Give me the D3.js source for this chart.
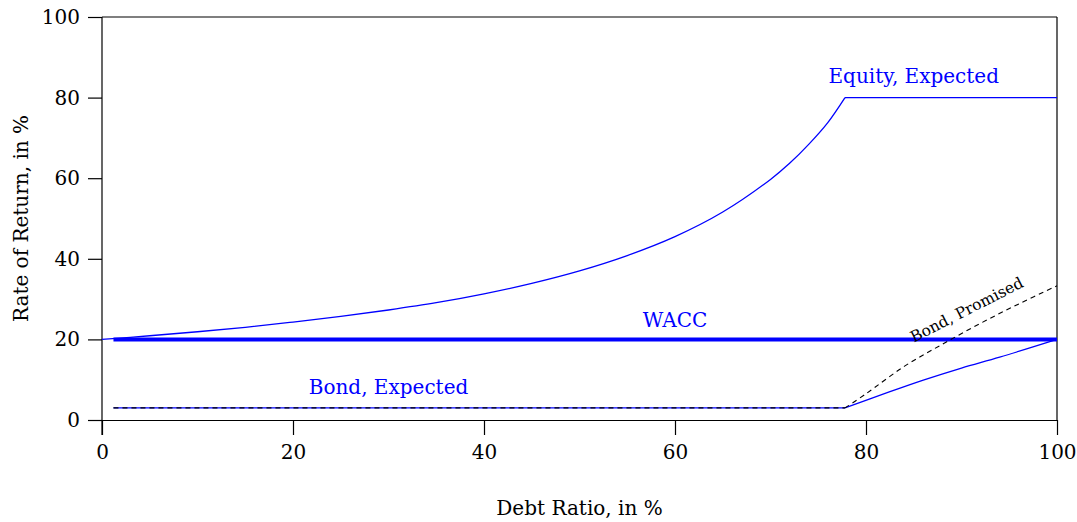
<!DOCTYPE html>
<html>
<head>
<meta charset="utf-8">
<script src="https://cdn.jsdelivr.net/npm/d3@7"></script>
<style>
  body { margin: 0; background: #fff; }
  text { font-family: "DejaVu Serif", serif; }
</style>
</head>
<body>
<svg id="chart" width="1077" height="522"></svg>
<script>
// debt ratio (%) and rates of return (%)
var equityX = [0, 5, 10, 15, 20, 25, 30, 35, 40, 45, 50, 55, 60, 65, 70, 72, 74, 76, 77.8];
var equityY = [20, 20.9, 21.9, 23, 24.3, 25.7, 27.3, 29.1, 31.3, 33.9, 37, 40.8, 45.5, 51.6, 59.7, 63.7, 68.4, 73.8, 80];
var equityCapX = [77.8, 100];
var equityCapY = [80, 80];

var waccX = [1.2, 100];
var waccY = [20, 20];

var bondFlatX = [1.2, 77.8];
var bondFlatY = [3, 3];

var bondExpX = [77.8, 82, 86, 90, 94, 100];
var bondExpY = [3, 6.6, 9.9, 12.9, 15.6, 20];

var bondProX = [77.8, 80, 84, 88, 92, 96, 100];
var bondProY = [3, 6.5, 13.3, 18.8, 24, 28.8, 33.3];

var xTicks = [0, 20, 40, 60, 80, 100];
var yTicks = [0, 20, 40, 60, 80, 100];

var svg = d3.select("#chart");
var x = d3.scaleLinear().domain([0, 100]).range([102, 1057]);
var y = d3.scaleLinear().domain([0, 100]).range([420, 17]);

function pts(xs, ys){
    return xs.map(function(d,i){ return [d, ys[i]]; });
}
var line = d3.line()
    .x(function(d){ return x(d[0]); })
    .y(function(d){ return y(d[1]); })
    .curve(d3.curveCatmullRom);

// frame
svg.append("line").attr("x1", x(0)).attr("x2", x(100)).attr("y1", y(100)).attr("y2", y(100))
    .attr("stroke", "#000").attr("stroke-width", 1.2);
svg.append("line").attr("x1", x(100)).attr("x2", x(100)).attr("y1", y(100)).attr("y2", y(0))
    .attr("stroke", "#000").attr("stroke-width", 1.2);

var xAxis = svg.append("g").attr("transform", "translate(0," + y(0) + ")")
    .call(d3.axisBottom(x).tickValues(xTicks).tickSize(15).tickPadding(10).tickSizeOuter(0));
var yAxis = svg.append("g").attr("transform", "translate(" + x(0) + ",0)")
    .call(d3.axisLeft(y).tickValues(yTicks).tickSize(14).tickPadding(8).tickSizeOuter(0));
[xAxis, yAxis].forEach(function(a){
    a.selectAll("text").style("font-family", "DejaVu Serif").style("font-size", "20px").attr("fill", "#000");
    a.selectAll("line,path").attr("stroke", "#000").attr("stroke-width", 1.2);
});
yAxis.select("path.domain").attr("d", "M0," + y(100) + "V" + (y(0) + 15));

// lines
function draw(xs, ys, color, width, dash){
    var p = svg.append("path").attr("d", line(pts(xs, ys)))
        .attr("fill", "none").attr("stroke", color).attr("stroke-width", width);
    if (dash) p.attr("stroke-dasharray", dash);
    return p;
}
draw(waccX, waccY, "#0000ff", 4);
draw(equityX, equityY, "#0000ff", 1.3);
draw(equityCapX, equityCapY, "#0000ff", 1.3);
draw(bondFlatX, bondFlatY, "#0000ff", 1.3);
draw(bondExpX, bondExpY, "#0000ff", 1.3);
draw(bondFlatX, bondFlatY, "#000", 1.1, "5,4");
draw(bondProX, bondProY, "#000", 1.1, "5,4");

// labels
svg.append("text").attr("x", x(85)).attr("y", y(83.5)).attr("text-anchor", "middle")
    .attr("fill", "#0000ff").style("font-size", "20px").text("Equity, Expected");
svg.append("text").attr("x", x(60)).attr("y", y(23.2)).attr("text-anchor", "middle")
    .attr("fill", "#0000ff").style("font-size", "20px").text("WACC");
svg.append("text").attr("x", x(30)).attr("y", y(6.5)).attr("text-anchor", "middle")
    .attr("fill", "#0000ff").style("font-size", "20px").text("Bond, Expected");
svg.append("text").attr("transform", "translate(" + x(90.8) + "," + y(26.2) + ") rotate(-27)")
    .attr("text-anchor", "middle").attr("fill", "#000").style("font-size", "15.5px").text("Bond, Promised");

svg.append("text").attr("x", x(50)).attr("y", 515).attr("text-anchor", "middle")
    .style("font-size", "20px").text("Debt Ratio, in %");
svg.append("text").attr("transform", "translate(28," + y(50) + ") rotate(-90)")
    .attr("text-anchor", "middle").style("font-size", "20px").text("Rate of Return, in %");
</script>
</body>
</html>
